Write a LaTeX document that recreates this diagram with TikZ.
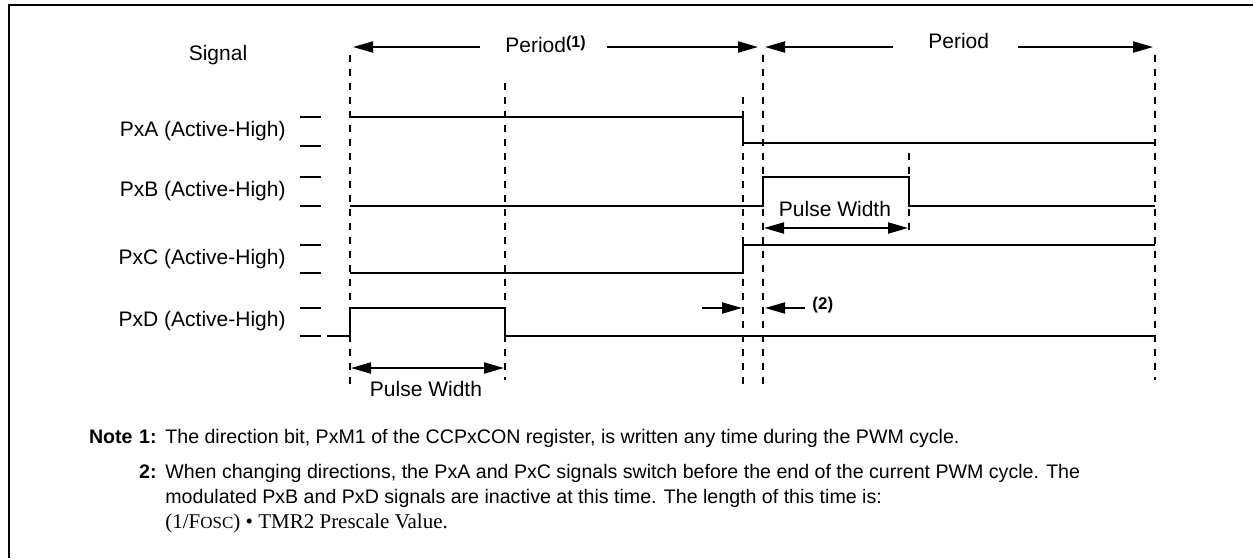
\documentclass[tikz,border=0pt]{standalone}
\usepackage{fontspec}
\setmainfont{Liberation Sans}
\newfontfamily\timesfont{Liberation Serif}
\usetikzlibrary{arrows.meta}
\begin{document}
\begin{tikzpicture}[x=0.5pt,y=-0.5pt,
  frame/.style={line width=1.3pt},
  wave/.style={line width=1pt},
  grid/.style={line width=1pt,dash pattern=on 3.5pt off 3.5pt},
  dim/.style={line width=1pt,-{Triangle[length=10pt,width=5.5pt]}},
  dimboth/.style={line width=1pt,{Triangle[length=10pt,width=5.5pt]}-{Triangle[length=10pt,width=5.5pt]}},
  lab/.style={font=\fontsize{10.5}{12}\selectfont,inner sep=0pt},
  note/.style={font=\fontsize{9.8}{12}\selectfont,inner sep=0pt,anchor=base west},
  notenum/.style={font=\fontsize{9.8}{12}\selectfont\bfseries,inner sep=0pt,anchor=base east},
  small/.style={font=\fontsize{8.5}{9}\selectfont\bfseries,inner sep=0pt}]
\useasboundingbox (0,0) rectangle (1253,558);
% frame
\draw[frame] (9,558) -- (9,5) -- (1253,5);
% level ticks
\foreach \yy in {117,146,177,206,245,273,308,336}
  \draw[wave] (300,\yy) -- (321,\yy);
% dashed time markers
\draw[grid] (350,55) -- (350,386);
\draw[grid] (505,83) -- (505,380);
\draw[grid] (743,97) -- (743,384);
\draw[grid] (763,55) -- (763,384);
\draw[grid] (909,153) -- (909,236);
\draw[grid] (1155,55) -- (1155,380);
% waveforms
\draw[wave] (350,117) -- (743,117) -- (743,143) -- (1155,143);
\draw[wave] (350,206) -- (763,206) -- (763,177) -- (909,177) -- (909,206) -- (1155,206);
\draw[wave] (350,273) -- (743,273) -- (743,245) -- (1155,245);
\draw[wave] (327,336) -- (350,336) -- (350,308) -- (505,308) -- (505,336) -- (1155,336);
% labels
\node[lab] (sig) at (218,55) {Signal};
\node[lab,anchor=east] (la) at (286,131.5) {PxA (Active-High)};
\node[lab,anchor=east] (lb) at (286,191.5) {PxB (Active-High)};
\node[lab,anchor=east] (lc) at (286,259) {PxC (Active-High)};
\node[lab,anchor=east] (ld) at (286,321) {PxD (Active-High)};
% period arrows
\node[lab,anchor=base west] (per1) at (505,52) {Period\raisebox{2.5pt}{\bfseries\fontsize{8}{8}\selectfont(1)}};
\node[lab,anchor=base west] (per2) at (928,48) {Period};
\coordinate (p1L) at (353,47); \coordinate (p1a) at (480,47);
\coordinate (p1b) at (607,47); \coordinate (p1R) at (758,47);
\coordinate (p2L) at (765,47); \coordinate (p2a) at (893,47);
\coordinate (p2b) at (1018,47); \coordinate (p2R) at (1153,47);
\draw[dim] (p1a) -- (p1L);
\draw[dim] (p1b) -- (p1R);
\draw[dim] (p2a) -- (p2L);
\draw[dim] (p2b) -- (p2R);
% pulse widths
\coordinate (w1L) at (351,368); \coordinate (w1R) at (504,368);
\draw[dimboth] (w1L) -- (w1R);
\node[lab] (pw1) at (426,389) {Pulse Width};
\coordinate (w2L) at (764,228); \coordinate (w2R) at (908,228);
\draw[dimboth] (w2L) -- (w2R);
\node[lab] (pw2) at (835,208.5) {Pulse Width};
% (2) dead time arrows
\coordinate (d1a) at (702,308); \coordinate (d1b) at (742,308);
\coordinate (d2a) at (805,308); \coordinate (d2b) at (765,308);
\draw[dim] (d1a) -- (d1b);
\draw[dim] (d2a) -- (d2b);
\node[small,anchor=west] (n2) at (812,305) {(2)};
% notes
\node[notenum] (nt) at (133,443) {Note};
\node[notenum] (n1) at (157,443) {1:};
\node[note] (t1) at (165,443) {The direction bit, PxM1 of the CCPxCON register, is written any time during the PWM cycle.};
\node[notenum] (n2b) at (157,478) {2:};
\node[note] (t2) at (165,478) {When changing directions, the PxA and PxC signals switch before the end of the current PWM cycle. The};
\node[note] (t3) at (165,503) {modulated PxB and PxD signals are inactive at this time. The length of this time is:};
\node[note,font=\timesfont\fontsize{10.5}{12}\selectfont] (t4) at (165,528) {(1/F{\fontsize{8.5}{9}\selectfont OSC}) • TMR2 Prescale Value.};
\end{tikzpicture}
\end{document}
